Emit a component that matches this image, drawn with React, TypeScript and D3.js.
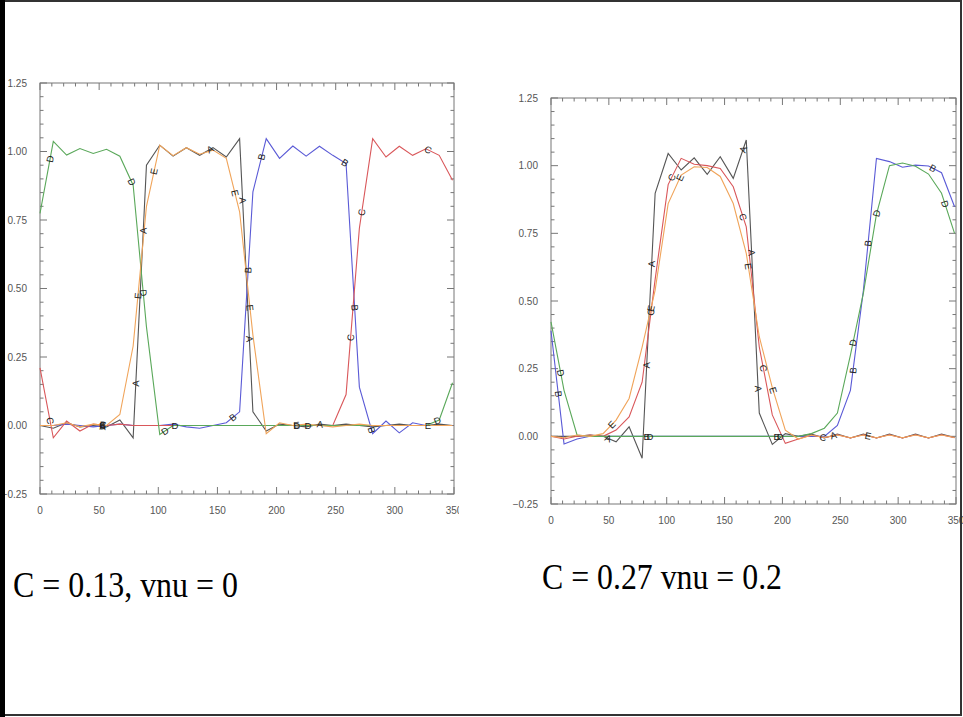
import React from 'react';
import * as d3 from 'd3';

const W = 963;
const H = 717;

// grid positions (dx = 11.25)
const gridX = [
  0, 11.25, 22.5, 33.75, 45, 56.25, 67.5, 78.75, 90, 101.25, 112.5, 123.75, 135, 146.25, 157.5, 168.75,
  180, 191.25, 202.5, 213.75, 225, 236.25, 247.5, 258.75, 270, 281.25, 292.5, 303.75, 315, 326.25, 337.5, 348.75,
];

const seriesNames = ['A', 'B', 'C', 'D', 'E'];
const seriesColors = ['#555555', '#5a5ad6', '#d9575a', '#5aa85a', '#f0a45a'];

const xTicks = [0, 50, 100, 150, 200, 250, 300, 350];
const yTicks = [-0.25, 0, 0.25, 0.5, 0.75, 1.0, 1.25];

// left panel: C = 0.13, vnu = 0
const leftA = [0, -0.01, 0.01, -0.005, 0, -0.005, 0.02, -0.045, 0.95, 1.023, 0.983, 1.014, 0.986, 1.014, 0.98, 1.047,
  0.05, -0.02, 0.005, 0, -0.005, 0.005, 0, 0.005, 0, -0.005, 0, 0.005, 0, 0, 0.005, 0];
const leftB = [0, 0, 0.005, 0, -0.005, 0, 0.005, 0, 0, 0, 0.005, -0.005, -0.01, 0, 0.01, 0.05,
  0.853, 1.047, 0.975, 1.02, 0.983, 1.019, 0.986, 0.956, 0.14, -0.03, 0.016, -0.027, 0.01, 0, 0, 0];
const leftC = [0.21, -0.045, 0.016, -0.02, 0.005, 0, 0.005, 0, 0, 0, 0, 0, 0, 0, 0, 0,
  0, 0, 0, 0, 0, 0, 0, 0.113, 0.72, 1.047, 0.98, 1.019, 0.986, 1.01, 0.986, 0.895];
const leftD = [0.774, 1.037, 0.987, 1.011, 0.993, 1.008, 0.983, 0.877, 0.36, -0.033, 0, 0, 0, 0, 0, 0,
  0, 0, 0, 0, 0, 0, 0, 0, 0, 0, 0, 0, 0, 0, 0.02, 0.156];
const leftE = [0, 0, 0.01, -0.005, 0.005, 0, 0.04, 0.29, 0.8, 1.023, 0.985, 1.014, 0.99, 1.005, 0.975, 0.78,
  0.33, -0.03, 0.01, 0, 0.005, 0, -0.005, 0, 0.005, 0, 0, 0, 0, 0, 0, 0];

// label positions (x data values) for the left panel
const leftLabA = [53, 81, 87.3, 143.7, 171.3, 177, 236.7];
const leftLabB = [53, 163, 176, 187.4, 257.8, 266, 280.4];
const leftLabC = [8.5, 53, 262.6, 272, 328];
const leftLabD = [8.5, 77.5, 87.3, 105.6, 114, 217, 226.6, 336];
const leftLabE = [53, 82.8, 96.4, 164.8, 177.5, 217, 328];

// right panel: C = 0.27 vnu = 0.2
const rightA = [0, 0, 0, 0.005, 0, -0.02, 0.035, -0.081, 0.898, 1.045, 0.984, 1.029, 0.968, 1.033, 0.953, 1.095,
  0.086, -0.03, 0.01, 0, 0.008, -0.006, 0.008, -0.006, 0.008, -0.006, 0.008, -0.006, 0.008, -0.006, 0.008, -0.004];
const rightB = [0.39, -0.028, -0.01, 0, 0, 0, 0, 0, 0, 0, 0, 0, 0, 0, 0, 0,
  0, 0, 0, 0, 0, 0, 0.04, 0.17, 0.54, 1.027, 1.015, 0.994, 1.002, 0.999, 0.974, 0.848];
const rightC = [0, -0.01, 0, 0.005, 0, 0.023, 0.072, 0.2, 0.58, 0.93, 1.027, 1.005, 1.0, 0.99, 0.922, 0.774,
  0.33, 0.079, -0.026, -0.01, 0.005, -0.005, 0.006, -0.006, 0.006, -0.006, 0.006, -0.006, 0.006, -0.006, 0.006, -0.005];
const rightD = [0.423, 0.17, 0.005, 0, 0, 0, 0, 0, 0, 0, 0, 0, 0, 0, 0, 0,
  0, 0, 0, 0, 0.01, 0.03, 0.086, 0.3, 0.53, 0.82, 1.0, 1.01, 0.998, 0.969, 0.898, 0.75];
const rightE = [0, -0.005, 0.005, 0, 0.01, 0.06, 0.14, 0.33, 0.54, 0.86, 0.965, 0.996, 0.993, 0.96, 0.86, 0.676,
  0.368, 0.18, 0.023, -0.01, 0.004, -0.004, 0.005, -0.005, 0.005, -0.005, 0.005, -0.005, 0.005, -0.005, 0.005, -0.004];

const rightLabA = [49.5, 82.7, 87, 166, 173.4, 179, 244];
const rightLabB = [6.3, 82.7, 195, 261, 274, 330];
const rightLabC = [86.4, 104.3, 166, 183.5, 235];
const rightLabD = [8.4, 85.6, 198, 261, 281.5, 340.5];
const rightLabE = [52.5, 86.4, 111.5, 170.5, 192, 274];

const sansFont = '"Liberation Sans", Arial, Helvetica, sans-serif';
const serifFont = '"Liberation Serif", "Times New Roman", Times, serif';

type Frame = { x0: number; x1: number; y0: number; y1: number };

function Panel({ id, frame, data, labels, clipX }: {
  id: string; frame: Frame; data: number[][]; labels: number[][]; clipX?: number;
}) {
  const x = d3.scaleLinear().domain([0, 350]).range([frame.x0, frame.x1]);
  const y = d3.scaleLinear().domain([-0.25, 1.25]).range([frame.y1, frame.y0]);
  const line = d3.line<number>().x((_, i) => x(gridX[i])).y((d) => y(d));
  const fmt = d3.format('.2f');

  const minorX = d3.range(0, 351, 10).filter((v) => v % 50 !== 0);
  const minorY = d3.range(-0.25, 1.2501, 0.05).filter((v) => Math.abs(v * 4 - Math.round(v * 4)) > 1e-6);

  // position + angle of a line label placed at data x = xv
  const labelAt = (vals: number[], xv: number) => {
    let i = d3.bisectRight(gridX, xv) - 1;
    i = Math.max(0, Math.min(gridX.length - 2, i));
    const t = (xv - gridX[i]) / (gridX[i + 1] - gridX[i]);
    const v = vals[i] + t * (vals[i + 1] - vals[i]);
    const dx = x(gridX[i + 1]) - x(gridX[i]);
    const dy = y(vals[i + 1]) - y(vals[i]);
    let ang = (Math.atan2(dy, dx) * 180) / Math.PI;
    if (ang > 90) ang -= 180;
    if (ang < -90) ang += 180;
    return { px: x(xv), py: y(v), ang };
  };

  const tickCol = '#777';
  return (
    <g clipPath={clipX ? `url(#clip-${id})` : undefined}>
      {clipX && (
        <defs>
          <clipPath id={`clip-${id}`}>
            <rect x={0} y={0} width={clipX} height={H} />
          </clipPath>
        </defs>
      )}
      <rect x={frame.x0} y={frame.y0} width={frame.x1 - frame.x0} height={frame.y1 - frame.y0}
        fill="none" stroke={tickCol} strokeWidth={1} />
      {xTicks.map((t) => (
        <g key={'xt' + t}>
          <line x1={x(t)} x2={x(t)} y1={frame.y1} y2={frame.y1 - 7} stroke={tickCol} />
          <line x1={x(t)} x2={x(t)} y1={frame.y0} y2={frame.y0 + 7} stroke={tickCol} />
          <text x={x(t)} y={frame.y1 + 20} textAnchor="middle" fontSize={10} fontFamily={sansFont} fill="#555">
            {t}
          </text>
        </g>
      ))}
      {minorX.map((t) => (
        <g key={'xm' + t}>
          <line x1={x(t)} x2={x(t)} y1={frame.y1} y2={frame.y1 - 3.5} stroke={tickCol} />
          <line x1={x(t)} x2={x(t)} y1={frame.y0} y2={frame.y0 + 3.5} stroke={tickCol} />
        </g>
      ))}
      {yTicks.map((t) => (
        <g key={'yt' + t}>
          <line x1={frame.x0} x2={frame.x0 + 7} y1={y(t)} y2={y(t)} stroke={tickCol} />
          <line x1={frame.x1} x2={frame.x1 - 7} y1={y(t)} y2={y(t)} stroke={tickCol} />
          <text x={frame.x0 - 13} y={y(t)} dy="0.35em" textAnchor="end" fontSize={10} fontFamily={sansFont} fill="#555">
            {fmt(t)}
          </text>
        </g>
      ))}
      {minorY.map((t) => (
        <g key={'ym' + t.toFixed(2)}>
          <line x1={frame.x0} x2={frame.x0 + 3.5} y1={y(t)} y2={y(t)} stroke={tickCol} />
          <line x1={frame.x1} x2={frame.x1 - 3.5} y1={y(t)} y2={y(t)} stroke={tickCol} />
        </g>
      ))}
      {data.map((vals, k) => (
        <path key={'s' + k} d={line(vals) || ''} fill="none" stroke={seriesColors[k]} strokeWidth={1.1} />
      ))}
      {labels.map((xsOfLabels, k) =>
        xsOfLabels.map((xv, j) => {
          const p = labelAt(data[k], xv);
          return (
            <text key={'l' + k + '-' + j} x={p.px} y={p.py} dy="0.35em" textAnchor="middle"
              transform={`rotate(${p.ang} ${p.px} ${p.py})`}
              fontSize={9.5} fontFamily={sansFont} fill="#222">
              {seriesNames[k]}
            </text>
          );
        })
      )}
    </g>
  );
}

export default function App() {
  return (
    <div style={{ position: 'absolute', left: 0, top: 0 }}>
      <svg width={W} height={H} style={{ display: 'block', background: '#fff' }}>
        <rect x={0} y={0} width={W} height={H} fill="#fff" />
        <Panel id="left" frame={{ x0: 40, x1: 454, y0: 83, y1: 494 }}
          data={[leftA, leftB, leftC, leftD, leftE]}
          labels={[leftLabA, leftLabB, leftLabC, leftLabD, leftLabE]} clipX={459} />
        <Panel id="right" frame={{ x0: 551, x1: 956, y0: 98, y1: 504 }}
          data={[rightA, rightB, rightC, rightD, rightE]}
          labels={[rightLabA, rightLabB, rightLabC, rightLabD, rightLabE]} />
        <text x={13} y={597} fontSize={36} fontFamily={serifFont} fill="#000"
          textLength={225} lengthAdjust="spacingAndGlyphs">
          C = 0.13, vnu = 0
        </text>
        <text x={542} y={589} fontSize={36} fontFamily={serifFont} fill="#000"
          textLength={240} lengthAdjust="spacingAndGlyphs">
          C = 0.27 vnu = 0.2
        </text>
        <rect x={1} y={1} width={960} height={714} fill="none" stroke="#333" strokeWidth={2} />
        <rect x={0} y={0} width={5} height={H} fill="#000" />
      </svg>
    </div>
  );
}
